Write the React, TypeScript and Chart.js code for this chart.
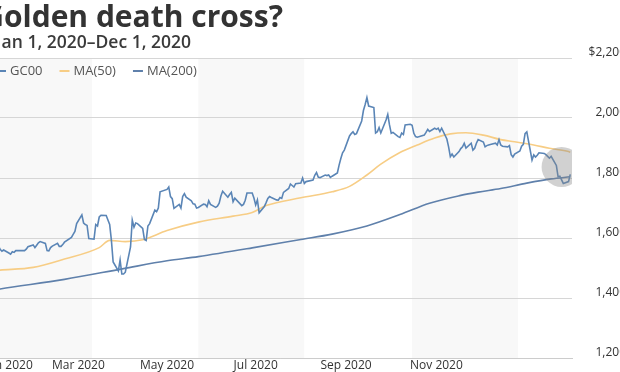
import React, { useEffect, useRef } from "react";
import { Chart, registerables } from "chart.js";

Chart.register(...registerables);

const YEAR = 2020;

// GC00 daily settlement (trading days, "MM-DD")
const gcDates: string[] = [
  "01-02","01-03","01-06","01-07","01-08","01-09","01-10","01-13","01-14","01-15","01-16","01-17","01-21","01-22","01-23","01-24","01-27","01-28","01-29","01-30","01-31",
  "02-03","02-04","02-05","02-06","02-07","02-10","02-11","02-12","02-13","02-14","02-18","02-19","02-20","02-21","02-24","02-25","02-26","02-27","02-28",
  "03-02","03-03","03-04","03-05","03-06","03-09","03-10","03-11","03-12","03-13","03-16","03-17","03-18","03-19","03-20","03-23","03-24","03-25","03-26","03-27","03-30","03-31",
  "04-01","04-02","04-03","04-06","04-07","04-08","04-09","04-13","04-14","04-15","04-16","04-17","04-20","04-21","04-22","04-23","04-24","04-27","04-28","04-29","04-30",
  "05-01","05-04","05-05","05-06","05-07","05-08","05-11","05-12","05-13","05-14","05-15","05-18","05-19","05-20","05-21","05-22","05-26","05-27","05-28","05-29",
  "06-01","06-02","06-03","06-04","06-05","06-08","06-09","06-10","06-11","06-12","06-15","06-16","06-17","06-18","06-19","06-22","06-23","06-24","06-25","06-26","06-29","06-30",
  "07-01","07-02","07-06","07-07","07-08","07-09","07-10","07-13","07-14","07-15","07-16","07-17","07-20","07-21","07-22","07-23","07-24","07-27","07-28","07-29","07-30","07-31",
  "08-03","08-04","08-05","08-06","08-07","08-10","08-11","08-12","08-13","08-14","08-17","08-18","08-19","08-20","08-21","08-24","08-25","08-26","08-27","08-28","08-31",
  "09-01","09-02","09-03","09-04","09-08","09-09","09-10","09-11","09-14","09-15","09-16","09-17","09-18","09-21","09-22","09-23","09-24","09-25","09-28","09-29","09-30",
  "10-01","10-02","10-05","10-06","10-07","10-08","10-09","10-12","10-13","10-14","10-15","10-16","10-19","10-20","10-21","10-22","10-23","10-26","10-27","10-28","10-29","10-30",
  "11-02","11-03","11-04","11-05","11-06","11-09","11-10","11-11","11-12","11-13","11-16","11-17","11-18","11-19","11-20","11-23","11-24","11-25","11-27","11-30",
  "12-01",
];
const gcValues: number[] = [
  1528,1552,1568,1574,1562,1556,1560,1550,1546,1554,1552,1558,1558,1558,1563,1571,1577,1568,1576,1584,1588,
  1582,1558,1557,1568,1573,1582,1572,1572,1578,1586,1602,1612,1622,1648,1677,1650,1645,1642,1598,
  1596,1645,1640,1670,1676,1675,1660,1645,1592,1520,1490,1527,1480,1480,1486,1570,1660,1636,1650,1648,1632,1595,
  1592,1640,1648,1693,1688,1700,1754,1762,1770,1738,1731,1699,1712,1700,1738,1748,1736,1724,1714,1713,1700,
  1702,1713,1712,1704,1724,1712,1702,1706,1716,1740,1756,1736,1745,1752,1721,1733,1708,1712,1726,1750,
  1750,1733,1710,1727,1684,1705,1718,1732,1738,1735,1727,1726,1735,1732,1752,1765,1780,1775,1770,1781,1783,1800,
  1782,1788,1793,1809,1818,1803,1801,1810,1808,1810,1802,1806,1817,1843,1865,1884,1893,1940,1948,1954,1945,1948,
  1990,2025,2045,2068,2040,2035,1950,1954,1968,1950,1993,2012,1977,1949,1952,1938,1935,1950,1945,1977,1979,
  1976,1949,1938,1936,1943,1952,1962,1955,1966,1962,1966,1955,1966,1930,1904,1871,1880,1870,1888,1898,1904,
  1916,1900,1916,1893,1899,1916,1928,1920,1904,1908,1910,1912,1916,1910,1928,1910,1906,1904,1908,1878,1870,1880,
  1890,1906,1912,1948,1954,1860,1877,1870,1876,1884,1882,1878,1872,1866,1872,1842,1804,1806,1782,1788,
  1812,
];

// 50-day moving average (sampled)
const ma50Dates: string[] = ["01-02","01-08","01-27","02-14","03-05","03-11","03-20","03-30","04-13","05-01","05-21","06-01","06-09","06-29","07-17","07-27","08-06","08-14","08-25","09-04","09-14","09-23","10-02","10-12","10-22","10-30","11-10","11-19","11-30","12-01"];
const ma50Values: number[] = [1490,1493,1502,1530,1568,1592,1588,1594,1625,1653,1673,1685,1708,1734,1754,1772,1810,1846,1885,1910,1933,1947,1951,1943,1928,1921,1910,1899,1888,1886];

// 200-day moving average (sampled)
const ma200Dates: string[] = ["01-02","01-08","02-14","03-19","04-13","05-01","06-01","06-29","07-17","08-06","08-25","09-11","09-29","10-09","10-22","11-06","11-20","12-01"];
const ma200Values: number[] = [1424,1430,1462,1498,1524,1538,1567,1595,1613,1640,1678,1716,1742,1753,1765,1783,1797,1804];

const seriesNames = ["GC00", "MA(50)", "MA(200)"];
const seriesColors = ["#5a85b6", "#f7cd85", "#5f80ab"];

const xTickLabels = ["Jan 2020", "Mar 2020", "May 2020", "Jul 2020", "Sep 2020", "Nov 2020"];
const xTickDays = [12, 52, 103, 154, 206, 258];
const bandEdges = ["03-01", "05-01", "07-01", "09-01", "11-01"];
const highlightDate = "11-26";
const highlightValue = 1837;

const titleText = "Golden death cross?";
const subtitleText = "Jan 1, 2020\u2013Dec 1, 2020";

const toDay = (md: string) => {
  const [m, d] = md.split("-").map(Number);
  return (Date.UTC(YEAR, m - 1, d) - Date.UTC(YEAR, 0, 1)) / 86400000;
};

const FONT = "'Open Sans', 'DejaVu Sans', sans-serif";
const SHIFT = 40; // canvas is shifted left of the visible frame

export default function App() {
  const ref = useRef<HTMLCanvasElement | null>(null);

  useEffect(() => {
    const canvas = ref.current;
    if (!canvas) return;

    const decor = {
      id: "decor",
      beforeDraw(chart: any) {
        const { ctx, chartArea: a, scales } = chart;
        const xs = scales.x;
        const edges = [a.left, ...bandEdges.map((e) => xs.getPixelForValue(toDay(e))), a.right];
        ctx.save();
        for (let i = 0; i < edges.length - 1; i++) {
          ctx.fillStyle = i % 2 === 0 ? "#f8f8f8" : "#ffffff";
          ctx.fillRect(edges[i], a.top, edges[i + 1] - edges[i], a.bottom - a.top);
        }
        ctx.restore();
      },
      afterDatasetsDraw(chart: any) {
        const { ctx, chartArea: a, scales } = chart;
        const cx = scales.x.getPixelForValue(toDay(highlightDate));
        const cy = scales.y.getPixelForValue(highlightValue);
        ctx.save();
        ctx.beginPath();
        ctx.rect(a.left, a.top, a.right - a.left, a.bottom - a.top);
        ctx.clip();
        ctx.beginPath();
        ctx.arc(cx, cy, 20, 0, Math.PI * 2);
        ctx.fillStyle = "rgba(135,135,135,0.38)";
        ctx.fill();
        ctx.restore();
      },
      afterDraw(chart: any) {
        const { ctx } = chart;
        ctx.save();
        ctx.fillStyle = "#333333";
        ctx.textBaseline = "alphabetic";
        ctx.font = `bold 30px ${FONT}`;
        ctx.textAlign = "right";
        ctx.fillText(titleText, SHIFT + 283, 27);
        ctx.font = `600 17.5px ${FONT}`;
        ctx.fillStyle = "#3a3a3a";
        ctx.fillText(subtitleText, SHIFT + 191, 48);

        // legend
        ctx.textAlign = "left";
        ctx.textBaseline = "middle";
        ctx.font = `13px ${FONT}`;
        let x = SHIFT - 4;
        const y = 71;
        seriesNames.forEach((name, i) => {
          ctx.strokeStyle = seriesColors[i];
          ctx.lineWidth = 2;
          ctx.beginPath();
          ctx.moveTo(x, y);
          ctx.lineTo(x + 10, y);
          ctx.stroke();
          ctx.fillStyle = "#555555";
          ctx.fillText(name, x + 14, y);
          x += 14 + ctx.measureText(name).width + 17;
        });
        ctx.restore();
      },
    };

    const chart = new Chart(canvas, {
      type: "line",
      data: {
        datasets: [
          {
            label: seriesNames[0],
            data: gcDates.map((d, i) => ({ x: toDay(d), y: gcValues[i] })),
            borderColor: seriesColors[0],
            borderWidth: 1.6,
            pointRadius: 0,
            tension: 0,
          },
          {
            label: seriesNames[1],
            data: ma50Dates.map((d, i) => ({ x: toDay(d), y: ma50Values[i] })),
            borderColor: seriesColors[1],
            borderWidth: 1.6,
            pointRadius: 0,
            cubicInterpolationMode: "monotone",
          },
          {
            label: seriesNames[2],
            data: ma200Dates.map((d, i) => ({ x: toDay(d), y: ma200Values[i] })),
            borderColor: seriesColors[2],
            borderWidth: 1.6,
            pointRadius: 0,
            cubicInterpolationMode: "monotone",
          },
        ],
      },
      options: {
        animation: false,
        responsive: false,
        devicePixelRatio: 1,
        layout: { padding: { left: 28, top: 58, right: 14, bottom: 0 } },
        scales: {
          x: {
            type: "linear",
            min: 0,
            max: 336,
            grid: { display: false, drawTicks: false },
            border: { display: true, color: "#cccccc", width: 1 },
            afterBuildTicks: (axis: any) => {
              axis.ticks = xTickDays.map((v) => ({ value: v }));
            },
            afterFit: (axis: any) => {
              axis.height = 14;
            },
            ticks: {
              autoSkip: false,
              maxRotation: 0,
              minRotation: 0,
              padding: 0,
              color: "#333333",
              font: { family: FONT, size: 12 },
              callback: (_v: any, i: number) => xTickLabels[i] ?? "",
            },
          },
          y: {
            position: "right",
            min: 1200,
            max: 2200,
            grid: { color: "#d6d6d6", drawTicks: false, lineWidth: 1 },
            border: { display: false },
            afterFit: (axis: any) => {
              axis.width = 54;
            },
            ticks: {
              stepSize: 200,
              crossAlign: "far",
              padding: 0,
              labelOffset: -5,
              color: "#333333",
              font: { family: FONT, size: 12 },
              callback: (v: any) => {
                const s = Number(v).toLocaleString("en-US");
                return Number(v) === 2200 ? "$" + s : s;
              },
            },
          },
        },
        plugins: {
          legend: { display: false },
          tooltip: { enabled: false },
          title: { display: false },
        },
      },
      plugins: [decor],
    } as any);

    return () => chart.destroy();
  }, []);

  return (
    <div
      style={{
        position: "fixed",
        left: 0,
        top: 0,
        width: 620,
        height: 372,
        overflow: "hidden",
        background: "#ffffff",
      }}
    >
      <canvas
        ref={ref}
        width={680}
        height={372}
        style={{ position: "absolute", left: -SHIFT, top: 0, width: 680, height: 372 }}
      />
    </div>
  );
}
